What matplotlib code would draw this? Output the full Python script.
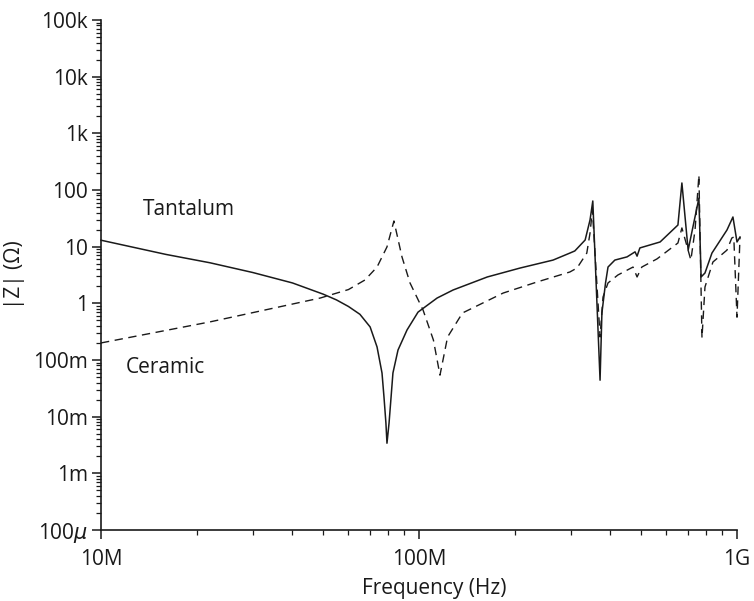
import matplotlib
matplotlib.use("Agg")
import numpy as np
from matplotlib import pyplot as plt
from matplotlib.ticker import LogLocator, FixedLocator, NullFormatter

plt.rcParams['font.family'] = ['Open Sans', 'DejaVu Sans']

# Tantalum (solid) - frequency in MHz, |Z| in ohm
tant_f = [10, 16, 22, 30, 40, 50, 55, 60, 65.2, 70.2, 73.8, 76.5, 77.6, 78.7, 79.3,
          80.5, 81.7, 82.8, 85.9, 91.7, 99.3, 114, 128, 164, 208, 264, 298, 309,
          333, 345, 352, 371, 376, 386, 393, 413, 451, 478, 485, 495, 573, 652,
          671, 702, 759, 771, 793, 834, 930, 971, 1000, 1022]
tant_z = [13, 7.3, 5.2, 3.5, 2.29, 1.45, 1.15, 0.88, 0.64, 0.383, 0.170, 0.059, 0.0223,
          0.0077, 0.0034, 0.0077, 0.0223, 0.059, 0.150, 0.339, 0.70, 1.24, 1.72,
          2.92, 4.2, 5.8, 7.7, 8.4, 13.1, 29.6, 64, 0.044, 0.676, 2.29, 4.37, 5.8,
          6.6, 8.1, 6.8, 9.5, 12.1, 24.1, 133, 8.7, 72, 2.92, 3.43, 7.7, 19.7,
          33.4, 12.1, 14.8]

# Ceramic (dashed)
cer_f = [10, 22, 48.9, 60, 67.6, 73.8, 79.3, 83.4, 88.4, 93.7, 103, 111, 116.4,
         123, 137, 184, 235, 298, 314, 337, 345, 351, 371, 379, 393, 422, 471,
         485, 502, 560, 652, 671, 716, 738, 759, 776, 793, 840, 930, 963, 977,
         1000, 1022]
cer_z = [0.20, 0.47, 1.24, 1.75, 2.58, 4.37, 9.9, 28.4, 6.6, 2.29, 0.76, 0.225, 0.054,
         0.255, 0.676, 1.52, 2.38, 3.57, 4.2, 7.7, 17.4, 45, 0.255, 1.29, 2.29,
         3.16, 4.37, 2.92, 4.37, 6.07, 11.6, 21.4, 5.8, 19.7, 184, 0.245, 1.94,
         5.36, 8.7, 14.2, 14.8, 0.57, 14.8]

y_ticks = [1e-4, 1e-3, 1e-2, 1e-1, 1, 10, 100, 1e3, 1e4, 1e5]
y_labels = ['100$\\mu$', '1m', '10m', '100m', '1', '10', '100', '1k', '10k', '100k']
x_ticks = [1e7, 1e8, 1e9]
x_labels = ['10M', '100M', '1G']

fig = plt.figure(figsize=(7.54, 6.01), dpi=100)
ax = fig.add_axes([101/754, 1 - 530/601, 636/754, 510/601])

ax.plot(np.array(tant_f) * 1e6, tant_z, color='#1a1a1a', lw=1.1, clip_on=False)
ax.plot(np.array(cer_f) * 1e6, cer_z, color='#1a1a1a', lw=1.0,
        dashes=(6, 4), clip_on=False)

ax.set_xscale('log')
ax.set_yscale('log')
ax.set_xlim(1e7, 1e9)
ax.set_ylim(1e-4, 1e5)

ax.yaxis.set_major_locator(FixedLocator(y_ticks))
ax.set_yticklabels(y_labels)
ax.xaxis.set_major_locator(FixedLocator(x_ticks))
ax.set_xticklabels(x_labels)
ax.xaxis.set_minor_locator(LogLocator(base=10, subs=np.arange(2, 10)))
ax.yaxis.set_minor_locator(LogLocator(base=10, subs=np.arange(2, 10), numticks=20))
ax.xaxis.set_minor_formatter(NullFormatter())
ax.yaxis.set_minor_formatter(NullFormatter())

for s in ['top', 'right']:
    ax.spines[s].set_visible(False)
for s in ['left', 'bottom']:
    ax.spines[s].set_linewidth(1.2)
    ax.spines[s].set_color('#1a1a1a')

ax.tick_params(which='major', direction='out', length=6.5, width=1.1,
               labelsize=15, pad=3, color='#1a1a1a', labelcolor='#1a1a1a')
ax.tick_params(axis='x', which='major', pad=7)
ax.tick_params(which='minor', direction='out', length=3.5, width=0.9,
               color='#1a1a1a')

ax.set_xlabel('Frequency (Hz)', fontsize=15, color='#1a1a1a')
ax.xaxis.set_label_coords(0.524, -0.095)
ax.set_ylabel('|Z| (Ω)', fontsize=15, color='#1a1a1a', labelpad=6)

ax.text(18.9e6, 45, 'Tantalum', fontsize=15, ha='center', va='center', color='#1a1a1a')
ax.text(15.9e6, 0.075, 'Ceramic', fontsize=15, ha='center', va='center', color='#1a1a1a')

fig.savefig('out.png', dpi=100)
